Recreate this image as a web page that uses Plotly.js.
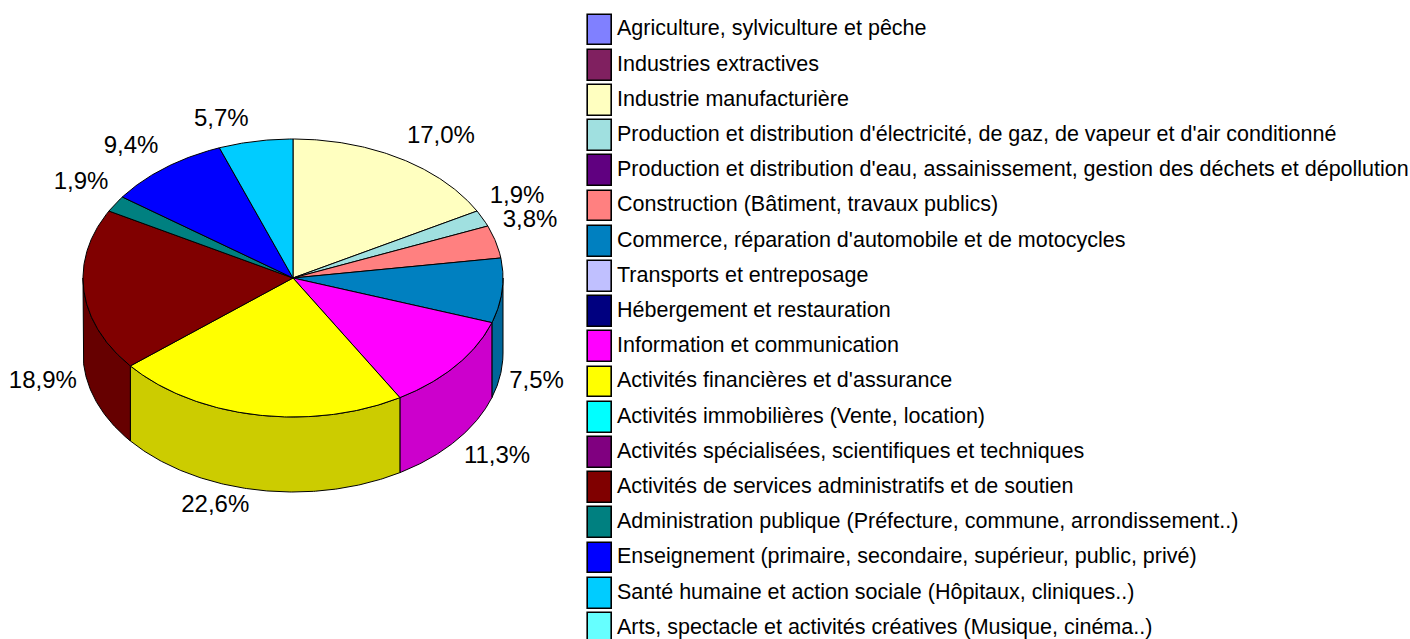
<!DOCTYPE html>
<html>
<head>
<meta charset="utf-8">
<script src="https://cdn.plot.ly/plotly-3.0.1.min.js"></script>
<style>html,body{margin:0;padding:0;background:#fff;}#chart{width:1410px;height:639px;}</style>
</head>
<body>
<div id="chart"></div>
<script>
// ---- Data ----
const categories = [
  "Agriculture, sylviculture et pêche",
  "Industries extractives",
  "Industrie manufacturière",
  "Production et distribution d'électricité, de gaz, de vapeur et d'air conditionné",
  "Production et distribution d'eau, assainissement, gestion des déchets et dépollution",
  "Construction (Bâtiment, travaux publics)",
  "Commerce, réparation d'automobile et de motocycles",
  "Transports et entreposage",
  "Hébergement et restauration",
  "Information et communication",
  "Activités financières et d'assurance",
  "Activités immobilières (Vente, location)",
  "Activités spécialisées, scientifiques et techniques",
  "Activités de services administratifs et de soutien",
  "Administration publique (Préfecture, commune, arrondissement..)",
  "Enseignement (primaire, secondaire, supérieur, public, privé)",
  "Santé humaine et action sociale (Hôpitaux, cliniques..)",
  "Arts, spectacle et activités créatives (Musique, cinéma..)"
];
const values = [0, 0, 17.0, 1.9, 0, 3.8, 7.5, 0, 0, 11.3, 22.6, 0, 0, 18.9, 1.9, 9.4, 5.7, 0];
const colors = [
  "#8080FF", "#802060", "#FFFFC0", "#A0E0E0", "#600080", "#FF8080",
  "#0080C0", "#C0C0FF", "#000080", "#FF00FF", "#FFFF00", "#00FFFF",
  "#800080", "#800000", "#008080", "#0000FF", "#00CCFF", "#66FFFF"
];

// ---- Geometry (style) ----
const CX = 293, CY = 278, RX = 210, RY = 139, DEPTH = 75;
const LABEL_FONT = 24, LEGEND_FONT = 21.5;
const FONT = "Liberation Sans, Arial, Helvetica, sans-serif";

function darker(hex, f) {
  const n = parseInt(hex.slice(1), 16);
  const r = Math.round(((n >> 16) & 255) * f), g = Math.round(((n >> 8) & 255) * f), b = Math.round((n & 255) * f);
  return "rgb(" + r + "," + g + "," + b + ")";
}
function pt(deg, dy) {
  const r = deg * Math.PI / 180;
  return [CX + RX * Math.sin(r), CY - RY * Math.cos(r) + (dy || 0)];
}
function arc(a0, a1, dy) {
  const n = Math.max(2, Math.ceil(Math.abs(a1 - a0) / 0.5));
  const xs = [], ys = [];
  for (let k = 0; k <= n; k++) {
    const p = pt(a0 + (a1 - a0) * k / n, dy);
    xs.push(p[0]); ys.push(p[1]);
  }
  return [xs, ys];
}

const total = values.reduce((a, b) => a + b, 0);
const sideTraces = [], topTraces = [];
const labels = [];
let acc = 0;
values.forEach((v, i) => {
  if (v <= 0) return;
  const a0 = acc / total * 360, a1 = (acc + v) / total * 360;
  acc += v;
  // visible side wall (front half)
  const s = Math.max(a0, 90), e = Math.min(a1, 270);
  if (e > s) {
    const top = arc(s, e, 0), bot = arc(e, s, DEPTH);
    const xs = top[0].concat(bot[0]); xs.push(top[0][0]);
    const ys = top[1].concat(bot[1]); ys.push(top[1][0]);
    sideTraces.push({
      type: "scatter", mode: "lines", x: xs, y: ys, fill: "toself",
      fillcolor: darker(colors[i], 0.8), line: {color: "#000", width: 1},
      hoverinfo: "skip", showlegend: false, xaxis: "x", yaxis: "y"
    });
  }
  const t = arc(a0, a1, 0);
  topTraces.push({
    type: "scatter", mode: "lines",
    x: [CX].concat(t[0], [CX]), y: [CY].concat(t[1], [CY]),
    fill: "toself", fillcolor: colors[i], line: {color: "#000", width: 1},
    hoverinfo: "text", text: categories[i], showlegend: false, xaxis: "x", yaxis: "y"
  });
  // label
  const mid = (a0 + a1) / 2, rad = mid * Math.PI / 180;
  const sn = Math.sin(rad), cs = Math.cos(rad);
  const txt = (v / total * 100).toFixed(1).replace(".", ",") + "%";
  let w = 0;
  for (const ch of txt) w += (ch === "," ? 0.278 : ch === "%" ? 0.889 : 0.556);
  w *= LABEL_FONT;
  const p = pt(mid, cs < 0 ? DEPTH : 0);
  labels.push({
    mid: mid, right: sn >= 0, txt: txt, w: w,
    x: p[0] + (sn >= 0 ? 1 : -1) * (w / 2 + 7),
    y: p[1] + (cs >= 0 ? -21 : 16)
  });
});
// simple overlap avoidance (push down)
function resolve(list) {
  for (let k = 1; k < list.length; k++) {
    const a = list[k - 1], b = list[k];
    if (Math.abs(a.x - b.x) < (a.w + b.w) / 2 && b.y - a.y < LABEL_FONT) b.y = a.y + LABEL_FONT;
  }
}
resolve(labels.filter(l => l.right).sort((a, b) => a.mid - b.mid));
resolve(labels.filter(l => !l.right).sort((a, b) => b.mid - a.mid));

const labelTrace = {
  type: "scatter", mode: "text", x: labels.map(l => l.x), y: labels.map(l => l.y),
  text: labels.map(l => l.txt), textposition: "middle center",
  textfont: {family: FONT, size: LABEL_FONT, color: "#000"},
  hoverinfo: "skip", showlegend: false, cliponaxis: false, xaxis: "x", yaxis: "y"
};

// ---- Legend (drawn as swatch bars + text) ----
const idx = categories.map((c, i) => i);
const swatchTrace = {
  type: "bar", orientation: "h", y: idx, x: idx.map(() => 24), base: 587.5,
  width: 0.88, marker: {color: colors, line: {color: "#000", width: 1.6}},
  hoverinfo: "text", hovertext: categories, showlegend: false, xaxis: "x2", yaxis: "y2"
};
const legendText = {
  type: "scatter", mode: "text", y: idx, x: idx.map(() => 617),
  text: categories, textposition: "middle right",
  textfont: {family: FONT, size: LEGEND_FONT, color: "#000"},
  hoverinfo: "skip", showlegend: false, cliponaxis: false, xaxis: "x2", yaxis: "y2"
};

const pxPerItem = 35.2;
const yTop = -30 / pxPerItem, yBot = yTop + 639 / pxPerItem;

const layout = {
  width: 1410, height: 639,
  margin: {l: 0, r: 0, t: 0, b: 0, pad: 0},
  paper_bgcolor: "#fff", plot_bgcolor: "rgba(0,0,0,0)",
  showlegend: false, bargap: 0,
  font: {family: FONT, color: "#000"},
  xaxis: {range: [0, 1410], visible: false, fixedrange: true, domain: [0, 1]},
  yaxis: {range: [639, 0], visible: false, fixedrange: true, domain: [0, 1]},
  xaxis2: {range: [0, 1410], visible: false, fixedrange: true, domain: [0, 1], anchor: "y2"},
  yaxis2: {range: [yBot, yTop], visible: false, fixedrange: true, domain: [0, 1], anchor: "x2"}
};

Plotly.newPlot("chart", sideTraces.concat(topTraces, [labelTrace, swatchTrace, legendText]), layout,
  {displayModeBar: false, staticPlot: false});
</script>
</body>
</html>
